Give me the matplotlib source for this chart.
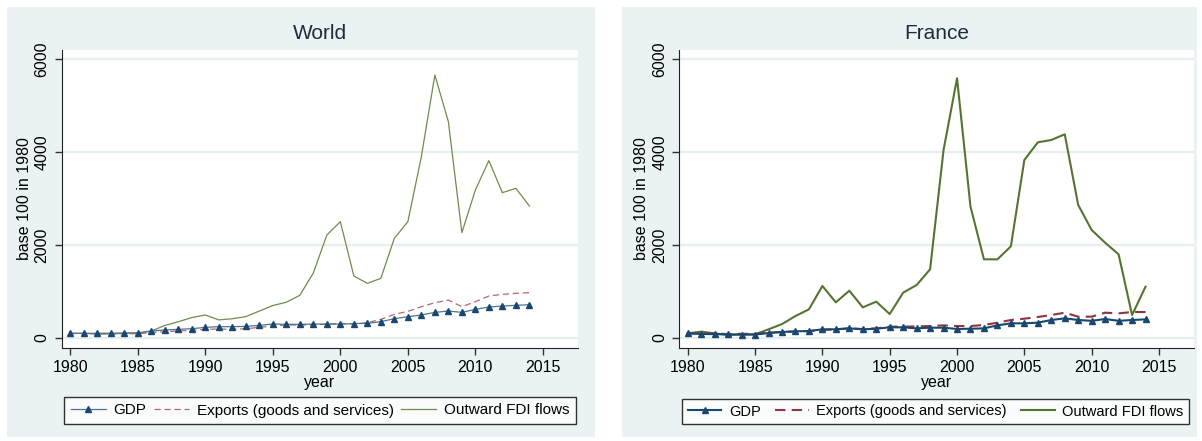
import numpy as np
import matplotlib
matplotlib.use('Agg')
import matplotlib.pyplot as plt
from matplotlib.patches import Rectangle

plt.rcParams['font.family'] = ['Liberation Sans', 'DejaVu Sans']

years = list(range(1980, 2015))

# World, base 100 in 1980
world_gdp = [100, 100, 102, 103, 108, 112, 150, 172, 187, 200,
             230, 244, 244, 250, 272, 301, 295, 295, 300, 300,
             300, 310, 316, 352, 416, 459, 495, 552, 581, 552,
             617, 667, 689, 703, 717]
world_exp = [100, 95, 90, 88, 92, 92, 115, 137, 150, 165,
             187, 194, 187, 200, 230, 258, 280, 280, 280, 300,
             316, 300, 330, 402, 510, 574, 674, 760, 818, 674,
             782, 904, 940, 962, 976]
world_fdi = [100, 100, 90, 90, 100, 100, 150, 270, 350, 440,
             495, 390, 415, 460, 580, 700, 770, 920, 1400, 2217,
             2505, 1335, 1177, 1285, 2146, 2505, 3904, 5662, 4658, 2268,
             3186, 3818, 3129, 3222, 2842]

# France, base 100 in 1980
france_gdp = [100, 87, 83, 78, 73, 75, 107, 130, 144, 150,
              187, 187, 208, 187, 200, 230, 230, 208, 222, 222,
              194, 200, 208, 272, 316, 316, 330, 388, 423, 388,
              370, 409, 370, 388, 401]
france_exp = [100, 105, 95, 85, 90, 90, 115, 130, 137, 150,
              172, 187, 208, 194, 208, 244, 244, 250, 258, 272,
              258, 258, 280, 330, 388, 416, 452, 495, 545, 459,
              459, 545, 530, 560, 560]
france_fdi = [100, 137, 100, 65, 80, 80, 187, 300, 473, 617,
              1120, 768, 1019, 660, 782, 516, 976, 1141, 1479, 4048,
              5591, 2828, 1694, 1694, 1974, 3832, 4212, 4263, 4385, 2864,
              2325, 2052, 1801, 495, 1105]

BG = "#EAF2F3"
GRID = "#E6EEF0"

fig = plt.figure(figsize=(12.02, 4.41), dpi=100)
fig.patch.set_facecolor("white")

# panel backgrounds (pixels -> figure fraction)
W, H = 1202, 441
for x0, x1 in [(7, 595), (622, 1197)]:
    fig.patches.append(Rectangle((x0 / W, 1 - 437 / H), (x1 - x0) / W, 430 / H,
                                 transform=fig.transFigure, facecolor=BG,
                                 edgecolor="none", zorder=-5))

panels = [
    ("World", world_gdp, world_exp, world_fdi,
     [61.5 / W, 93 / H, (578 - 61.5) / W, 298 / H],
     (320 / W, 30.5 / H), 0.9, 11, 0.5,
     ("#4F7396", "#B8666C", "#6E8C4A")),
    ("France", france_gdp, france_exp, france_fdi,
     [679 / W, 93 / H, (1194 - 679) / W, 298 / H],
     (935.5 / W, 29.5 / H), 1.5, 10.5, 1.0,
     ("#1A476F", "#90353B", "#55752F")),
]

for title, gdp, exp_, fdi, rect, leg_c, lw, lfs, cspace, cols in panels:
    ax = fig.add_axes(rect)
    ax.set_zorder(1)
    ax.set_facecolor("white")
    for y in [0, 2000, 4000, 6000]:
        ax.axhline(y, color=GRID, linewidth=1.6, zorder=0)

    ax.plot(years, fdi, color=cols[2], linewidth=lw, label="Outward FDI flows", zorder=2)
    ax.plot(years, exp_, color=cols[1], linewidth=lw, linestyle=(0, (5, 3)),
            label="Exports (goods and services)", zorder=3)
    ax.plot(years, gdp, color=cols[0], linewidth=lw, marker="^", markersize=5,
            markerfacecolor="#1A476F", markeredgecolor="#1A476F",
            label="GDP", zorder=4)

    ax.set_xlim(1979.35, 2017.6)
    ax.set_ylim(-215, 6200)
    ax.set_xticks([1980, 1985, 1990, 1995, 2000, 2005, 2010, 2015])
    ax.set_yticks([0, 2000, 4000, 6000])
    ax.tick_params(axis="both", direction="out", length=5, width=1,
                   color="#333333", labelsize=11.5)
    for lab in ax.get_yticklabels():
        lab.set_rotation(90)
        lab.set_va("center")
    ax.spines["top"].set_visible(False)
    ax.spines["right"].set_visible(False)
    ax.spines["left"].set_color("#222222")
    ax.spines["bottom"].set_color("#222222")
    ax.set_xlabel("year", fontsize=11.5, labelpad=0)
    ax.set_ylabel("base 100 in 1980", fontsize=11.5, labelpad=2)
    ax.set_title(title, fontsize=15, pad=8, color="#1E2D3C")

    handles, labels = ax.get_legend_handles_labels()
    order = [2, 1, 0]
    leg = ax.legend([handles[i] for i in order], [labels[i] for i in order],
                    loc="center", bbox_to_anchor=leg_c,
                    bbox_transform=fig.transFigure, ncol=3,
                    fontsize=lfs, frameon=True, fancybox=False,
                    edgecolor="black", handlelength=2.3, handletextpad=0.5,
                    borderpad=0.4, columnspacing=cspace, borderaxespad=0)
    leg.get_frame().set_linewidth(1.0)

fig.savefig("out.png", dpi=100)
